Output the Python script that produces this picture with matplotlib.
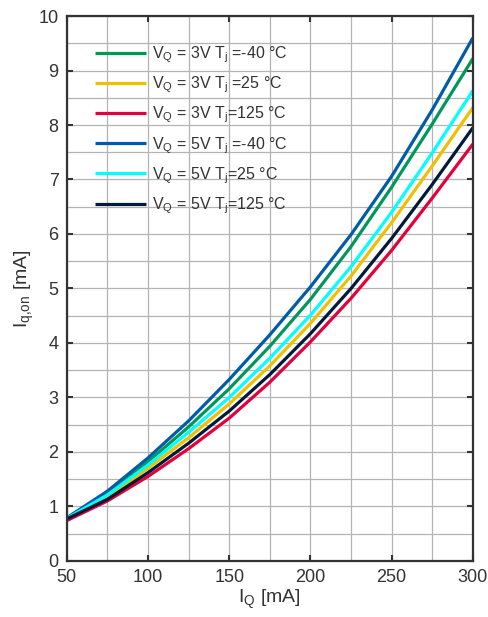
import numpy as np
import matplotlib
matplotlib.use("Agg")
import matplotlib.pyplot as plt
from matplotlib.ticker import MultipleLocator

plt.rcParams['font.family'] = ['Liberation Sans', 'DejaVu Sans']
plt.rcParams['mathtext.fontset'] = 'custom'
plt.rcParams['mathtext.rm'] = 'Liberation Sans'
plt.rcParams['mathtext.it'] = 'Liberation Sans'

# I_Q [mA]
iq = [50, 75, 100, 125, 150, 175, 200, 225, 250, 275, 300]
# I_q,on [mA]
v3_m40 = [0.78, 1.25, 1.82, 2.46, 3.16, 3.94, 4.80, 5.77, 6.86, 8.02, 9.22]
v3_25 = [0.76, 1.17, 1.70, 2.26, 2.88, 3.58, 4.36, 5.23, 6.21, 7.25, 8.32]
v3_125 = [0.74, 1.10, 1.55, 2.06, 2.62, 3.28, 4.02, 4.82, 5.70, 6.66, 7.65]
v5_m40 = [0.79, 1.28, 1.89, 2.57, 3.33, 4.15, 5.03, 5.99, 7.06, 8.28, 9.60]
v5_25 = [0.78, 1.21, 1.76, 2.36, 3.00, 3.72, 4.51, 5.40, 6.40, 7.49, 8.63]
v5_125 = [0.77, 1.13, 1.62, 2.16, 2.75, 3.42, 4.17, 5.00, 5.92, 6.91, 7.95]

series = [v3_m40, v3_25, v3_125, v5_m40, v5_25, v5_125]
labels = [r"$\mathrm{V_Q}$ = 3V $\mathrm{T_j}$ =-40 °C",
          r"$\mathrm{V_Q}$ = 3V $\mathrm{T_j}$ =25 °C",
          r"$\mathrm{V_Q}$ = 3V $\mathrm{T_j}$=125 °C",
          r"$\mathrm{V_Q}$ = 5V $\mathrm{T_j}$ =-40 °C",
          r"$\mathrm{V_Q}$ = 5V $\mathrm{T_j}$=25 °C",
          r"$\mathrm{V_Q}$ = 5V $\mathrm{T_j}$=125 °C"]
colors = ["#00985a", "#f0c000", "#e4003a", "#005ca8", "#00ffff", "#001a3a"]

fig = plt.figure(figsize=(4.88, 6.17), dpi=100)
ax = fig.add_axes([0.137, 0.091, 0.832, 0.883])

for y, lab, c in zip(series, labels, colors):
    ax.plot(iq, y, color=c, lw=2.3, label=lab, solid_capstyle='butt',
            solid_joinstyle='round')

ax.set_xlim(50, 300)
ax.set_ylim(0, 10)
ax.xaxis.set_major_locator(MultipleLocator(50))
ax.xaxis.set_minor_locator(MultipleLocator(25))
ax.yaxis.set_major_locator(MultipleLocator(1))
ax.yaxis.set_minor_locator(MultipleLocator(0.5))
ax.grid(True, which='both', color='#b4b4b4', lw=0.9)
ax.set_axisbelow(True)
ax.tick_params(which='major', direction='in', length=4, width=1.5, top=True, right=True,
               labelsize=13, color='#333333', labelcolor='#333333', pad=6)
ax.tick_params(which='minor', length=0)
for s in ax.spines.values():
    s.set_linewidth(1.6)
    s.set_color('#333333')

ax.set_xlabel(r"$\mathrm{I_Q}$ [mA]", fontsize=14, color='#333333', labelpad=1)
ax.set_ylabel(r"$\mathrm{I_{q{,}on}}$ [mA]", fontsize=14, color='#333333', labelpad=2)

leg = ax.legend(loc='upper left', bbox_to_anchor=(0.069, 0.948), frameon=False,
                fontsize=11.5, handlelength=3.2, labelspacing=0.6, handletextpad=0.38,
                borderaxespad=0, borderpad=0)
for t in leg.get_texts():
    t.set_color('#333333')

fig.savefig("out.png", dpi=100)
